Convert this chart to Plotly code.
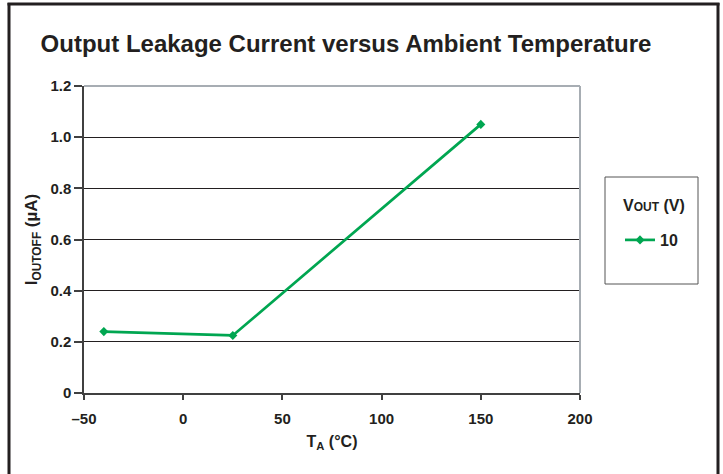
import plotly.graph_objects as go

# Data
temps = [-40, 25, 150]
ioutoff = [0.24, 0.225, 1.05]
series_name = "10"
x_tickvals = [-50, 0, 50, 100, 150, 200]
x_ticktext = ["–50", "0", "50", "100", "150", "200"]
y_tickvals = [0, 0.2, 0.4, 0.6, 0.8, 1.0, 1.2]
y_ticktext = ["0", "0.2", "0.4", "0.6", "0.8", "1.0", "1.2"]

W, H = 723, 474
L, R, T, B = 84, 143, 86, 81
pw, ph = W - L - R, H - T - B

def px(x):
    return (x - L) / pw

def py(y):
    return (H - B - y) / ph

GREEN = "#00a651"
INK = "#231f20"
FONT = "Liberation Sans, Arial, sans-serif"

fig = go.Figure()
fig.add_trace(go.Scatter(
    x=temps, y=ioutoff, mode="lines+markers", name="<b>" + series_name + "</b>",
    line=dict(color=GREEN, width=2.7),
    marker=dict(symbol="diamond", size=7, color=GREEN),
))

fig.update_layout(
    width=W, height=H,
    margin=dict(l=L, r=R, t=T, b=B, autoexpand=False),
    paper_bgcolor="white", plot_bgcolor="white",
    font=dict(family=FONT, color=INK),
    title=dict(text="<b>Output Leakage Current versus Ambient Temperature</b>",
               xref="container", x=346 / W, xanchor="center",
               yref="container", y=1 - 44 / H, yanchor="middle",
               font=dict(size=24, color=INK)),
    showlegend=True,
    legend=dict(
        x=px(620), y=py(240), xanchor="left", yanchor="middle",
        bgcolor="rgba(0,0,0,0)", borderwidth=0,
        font=dict(size=16, color=INK, family=FONT),
        itemwidth=30,
    ),
    annotations=[
        dict(text="<b>V<span style='font-size:12px'>OUT</span> (V)</b>",
             xref="paper", yref="paper", x=px(654), y=py(205),
             xanchor="center", yanchor="middle", showarrow=False,
             font=dict(size=16, color=INK, family=FONT)),
    ],
    xaxis=dict(
        range=[-50, 200], tickvals=x_tickvals, ticktext=x_ticktext,
        showgrid=False, zeroline=False,
        showline=True, linecolor="#404040", linewidth=1.5,
        ticks="outside", ticklen=5, tickcolor="#404040", tickwidth=1.5,
        ticklabelstandoff=6,
        tickfont=dict(size=15, family=FONT, color=INK, weight="bold"),
        title=dict(text="<b>T<sub>A</sub> (°C)</b>", font=dict(size=16), standoff=10),
    ),
    yaxis=dict(
        range=[0, 1.2], tickvals=y_tickvals, ticktext=y_ticktext,
        showgrid=True, gridcolor=INK, gridwidth=1,
        zeroline=False,
        showline=True, linecolor="#404040", linewidth=1.5,
        ticks="outside", ticklen=8, tickcolor="#404040", tickwidth=1.5,
        tickfont=dict(size=15, family=FONT, color=INK, weight="bold"),
        title=dict(text="<b>I<sub>OUTOFF</sub> (µA)</b>", font=dict(size=17), standoff=8),
    ),
    shapes=[
        # plot area top and right border
        dict(type="line", xref="paper", yref="paper", x0=0, x1=1, y0=1, y1=1,
             line=dict(color="#a7adb3", width=2), layer="above"),
        dict(type="line", xref="paper", yref="paper", x0=1, x1=1, y0=0, y1=1,
             line=dict(color="#a7adb3", width=2), layer="above"),
        # legend box
        dict(type="rect", xref="paper", yref="paper",
             x0=px(605), x1=px(698), y0=py(284), y1=py(177),
             line=dict(color="#555555", width=1)),
        # outer frame
        dict(type="line", xref="paper", yref="paper", x0=px(9), x1=px(9), y0=py(3), y1=py(480),
             line=dict(color=INK, width=3)),
        dict(type="line", xref="paper", yref="paper", x0=px(718), x1=px(718), y0=py(3), y1=py(480),
             line=dict(color=INK, width=3)),
        dict(type="line", xref="paper", yref="paper", x0=px(7.5), x1=px(719.5), y0=py(4), y1=py(4),
             line=dict(color=INK, width=3)),
    ],
)

fig.write_html("out.html", config={"displayModeBar": False},
               post_script="document.body.style.margin='0';")
